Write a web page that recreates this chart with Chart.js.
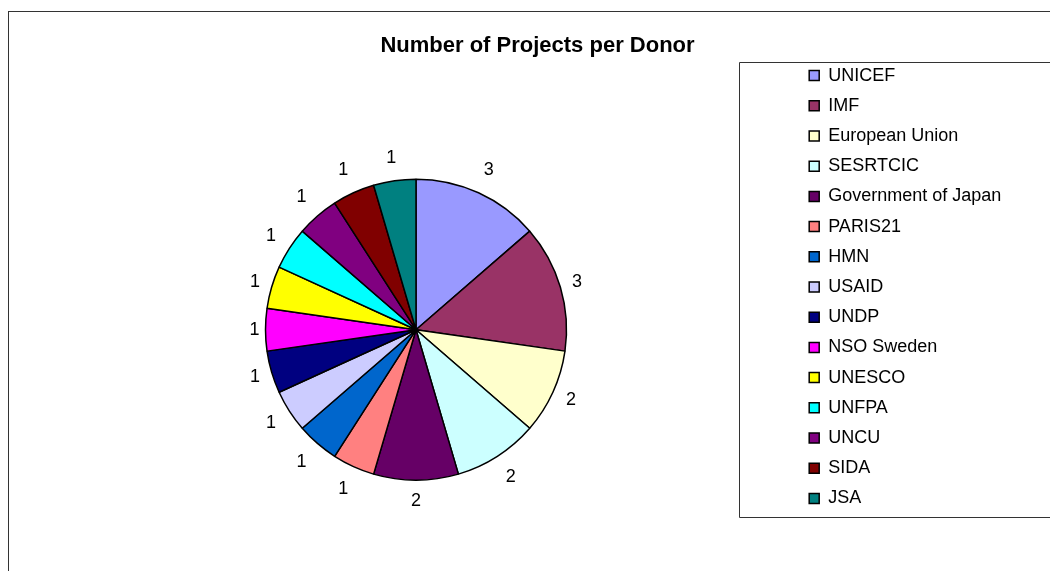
<!DOCTYPE html>
<html>
<head>
<meta charset="utf-8">
<script src="https://cdn.jsdelivr.net/npm/chart.js@4"></script>
<style>
    html, body { margin: 0; padding: 0; background: #fff; overflow: hidden; }
    #frame {
        position: absolute; left: 8px; top: 11px;
        border-left: 1px solid #333; border-top: 1px solid #333;
    }
    canvas { display: block; }
</style>
</head>
<body>
<div id="frame"><canvas id="donorChart" width="1057" height="566"></canvas></div>
<script>
const donors = ['UNICEF', 'IMF', 'European Union', 'SESRTCIC', 'Government of Japan', 'PARIS21', 'HMN',
    'USAID', 'UNDP', 'NSO Sweden', 'UNESCO', 'UNFPA', 'UNCU', 'SIDA', 'JSA'];
const projects = [3, 3, 2, 2, 2, 1, 1, 1, 1, 1, 1, 1, 1, 1, 1];
const sliceColors = ['#9999FF', '#993366', '#FFFFCC', '#CCFFFF', '#660066', '#FF8080', '#0066CC',
    '#CCCCFF', '#000080', '#FF00FF', '#FFFF00', '#00FFFF', '#800080', '#800000', '#008080'];

const FONT = "'Liberation Sans', Arial, sans-serif";
const LEGEND_WIDTH = 243;

// the Excel legend box is wider than its text, so stretch the legend layout box
const wideLegend = {
    id: 'wideLegend',
    beforeLayout(chart) {
        const lg = chart.legend;
        if (lg && !lg._wide) {
            const fit = lg.fit;
            lg.fit = function () {
                fit.call(this);
                if (this.options.display) this.width = LEGEND_WIDTH;
            };
            lg._wide = true;
        }
    }
};

// value labels outside each slice
const outsideLabels = {
    id: 'outsideLabels',
    afterDatasetsDraw(chart) {
        const c = chart.ctx;
        const meta = chart.getDatasetMeta(0);
        c.save();
        c.font = '18px ' + FONT;
        c.fillStyle = '#000';
        c.textAlign = 'center';
        c.textBaseline = 'middle';
        meta.data.forEach((arc, i) => {
            const p = arc.getProps(['x', 'y', 'startAngle', 'endAngle', 'outerRadius'], true);
            const mid = (p.startAngle + p.endAngle) / 2;
            const ux = Math.cos(mid), uy = Math.sin(mid);
            const dist = p.outerRadius - 3.5 + 14.5 * Math.abs(ux) + 24.5 * Math.abs(uy);
            c.fillText(String(chart.data.datasets[0].data[i]), p.x + ux * dist, p.y + uy * dist);
        });
        c.restore();
    }
};

// frame around the legend
const legendFrame = {
    id: 'legendFrame',
    afterDraw(chart) {
        const boxes = chart.legend && chart.legend.legendHitBoxes;
        if (!boxes || !boxes.length) return;
        const first = boxes[0], last = boxes[boxes.length - 1];
        const c = chart.ctx;
        c.save();
        c.strokeStyle = '#333';
        c.lineWidth = 1;
        const left = Math.round(first.left - 70) + 0.5;
        const top = Math.round(first.top - 5) + 0.5;
        const bottom = Math.round(last.top + last.height + 10) + 0.5;
        c.beginPath();
        c.moveTo(chart.width + 5, top);
        c.lineTo(left, top);
        c.lineTo(left, bottom);
        c.lineTo(chart.width + 5, bottom);
        c.stroke();
        c.restore();
    }
};

const ctx = document.getElementById('donorChart').getContext('2d');

const chart = new Chart(ctx, {
    type: 'pie',
    data: {
        labels: donors,
        datasets: [{
            data: projects,
            backgroundColor: sliceColors,
            borderColor: '#000',
            borderWidth: 1.5
        }]
    },
    options: {
        responsive: false,
        animation: false,
        radius: 150.5,
        layout: { padding: { left: 26, right: 26, top: 0, bottom: 16 } },
        plugins: {
            title: {
                display: true,
                text: 'Number of Projects per Donor',
                color: '#000',
                font: { family: FONT, size: 22, weight: 'bold', lineHeight: 1.2 },
                padding: { top: 21, bottom: 38 }
            },
            legend: {
                position: 'right',
                labels: {
                    color: '#000',
                    font: { family: FONT, size: 18 },
                    boxWidth: 10,
                    boxHeight: 10,
                    padding: 12.2
                }
            },
            tooltip: { enabled: false }
        }
    },
    plugins: [wideLegend, outsideLabels, legendFrame]
});
</script>
</body>
</html>
